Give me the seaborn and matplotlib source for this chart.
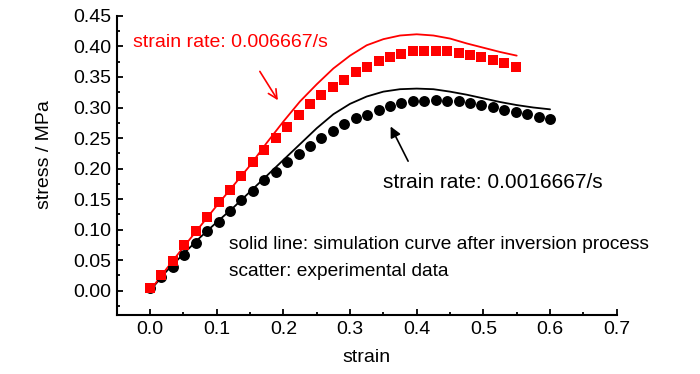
import matplotlib
matplotlib.use("Agg")
import matplotlib.pyplot as plt
import pandas as pd
import seaborn as sns
from matplotlib.ticker import MultipleLocator, FormatStrFormatter

# ---------------- data ----------------
strain_exp = [0.000, 0.017, 0.034, 0.051, 0.069, 0.086, 0.103, 0.120, 0.137,
              0.154, 0.171, 0.189, 0.206, 0.223, 0.240, 0.257, 0.274, 0.291,
              0.309, 0.326, 0.343, 0.360, 0.377, 0.394, 0.411, 0.429, 0.446,
              0.463, 0.480, 0.497, 0.514, 0.531, 0.549, 0.566, 0.583, 0.600]

# experimental data, strain rate 0.006667/s (red squares, 33 points)
stress_exp_fast = [0.005, 0.026, 0.049, 0.075, 0.097, 0.120, 0.145, 0.165,
                   0.187, 0.211, 0.231, 0.250, 0.268, 0.288, 0.306, 0.320,
                   0.333, 0.345, 0.358, 0.367, 0.377, 0.382, 0.388, 0.392,
                   0.393, 0.393, 0.392, 0.389, 0.386, 0.382, 0.378, 0.373,
                   0.367]

# experimental data, strain rate 0.0016667/s (black circles, 36 points)
stress_exp_slow = [0.005, 0.023, 0.039, 0.059, 0.078, 0.097, 0.113, 0.130,
                   0.148, 0.163, 0.181, 0.195, 0.211, 0.224, 0.237, 0.250,
                   0.262, 0.273, 0.283, 0.288, 0.296, 0.303, 0.307, 0.311,
                   0.311, 0.313, 0.311, 0.310, 0.307, 0.304, 0.301, 0.296,
                   0.292, 0.290, 0.285, 0.281]

# simulation curves
strain_sim_fast = [0.0, 0.025, 0.05, 0.075, 0.1, 0.125, 0.15, 0.175, 0.2,
                   0.225, 0.25, 0.275, 0.3, 0.325, 0.35, 0.375, 0.4, 0.425,
                   0.45, 0.475, 0.5, 0.525, 0.55]
stress_sim_fast = [0.000, 0.036, 0.071, 0.105, 0.139, 0.172, 0.205, 0.242,
                   0.277, 0.310, 0.338, 0.364, 0.385, 0.402, 0.412, 0.418,
                   0.420, 0.418, 0.413, 0.405, 0.398, 0.391, 0.385]

strain_sim_slow = [0.0, 0.025, 0.05, 0.075, 0.1, 0.125, 0.15, 0.175, 0.2,
                   0.225, 0.25, 0.275, 0.3, 0.325, 0.35, 0.375, 0.4, 0.425,
                   0.45, 0.475, 0.5, 0.525, 0.55, 0.575, 0.6]
stress_sim_slow = [0.000, 0.032, 0.060, 0.087, 0.112, 0.136, 0.162, 0.188,
                   0.214, 0.240, 0.266, 0.289, 0.306, 0.318, 0.326, 0.330,
                   0.331, 0.330, 0.326, 0.321, 0.315, 0.309, 0.304, 0.300,
                   0.297]

label_fast = "strain rate: 0.006667/s"
label_slow = "strain rate: 0.0016667/s"
note_line = "solid line: simulation curve after inversion process"
note_scatter = "scatter: experimental data"
x_label = "strain"
y_label = "stress / MPa"

# ---------------- tables ----------------
exp_fast = pd.DataFrame({"strain": strain_exp[:len(stress_exp_fast)],
                         "stress": stress_exp_fast})
exp_slow = pd.DataFrame({"strain": strain_exp[:len(stress_exp_slow)],
                         "stress": stress_exp_slow})
sim_fast = pd.DataFrame({"strain": strain_sim_fast, "stress": stress_sim_fast})
sim_slow = pd.DataFrame({"strain": strain_sim_slow, "stress": stress_sim_slow})

# ---------------- style ----------------
sns.set_style("ticks")
plt.rcParams["font.family"] = ["Liberation Sans", "DejaVu Sans"]
plt.rcParams["text.color"] = "black"
plt.rcParams["axes.labelcolor"] = "black"
plt.rcParams["xtick.color"] = "black"
plt.rcParams["ytick.color"] = "black"

fig = plt.figure(figsize=(7.0, 3.74), dpi=100)
ax = fig.add_axes([0.1667, 0.1578, 0.7143, 0.7995])

RED = "#ff0000"
BLK = "#000000"

sns.lineplot(data=sim_slow, x="strain", y="stress", color=BLK, lw=1.3,
             sort=False, estimator=None, ax=ax, zorder=3)
sns.lineplot(data=sim_fast, x="strain", y="stress", color=RED, lw=1.3,
             sort=False, estimator=None, ax=ax, zorder=3)
sns.scatterplot(data=exp_slow, x="strain", y="stress", color=BLK, marker="o",
                s=62, linewidth=0, ax=ax, zorder=4)
sns.scatterplot(data=exp_fast, x="strain", y="stress", color=RED, marker="s",
                s=52, linewidth=0, ax=ax, zorder=5)

ax.set_xlim(-0.05, 0.7)
ax.set_ylim(-0.04, 0.45)
ax.xaxis.set_major_locator(MultipleLocator(0.1))
ax.xaxis.set_minor_locator(MultipleLocator(0.05))
ax.yaxis.set_major_locator(MultipleLocator(0.05))
ax.yaxis.set_minor_locator(MultipleLocator(0.025))
ax.xaxis.set_major_formatter(FormatStrFormatter("%.1f"))
ax.yaxis.set_major_formatter(FormatStrFormatter("%.2f"))

for s in ["top", "right"]:
    ax.spines[s].set_visible(False)
for s in ["left", "bottom"]:
    ax.spines[s].set_linewidth(1.5)
    ax.spines[s].set_color(BLK)

ax.tick_params(which="major", direction="in", length=4.5, width=1.3,
               labelsize=14, colors=BLK, labelcolor=BLK, pad=4)
ax.tick_params(which="minor", direction="in", length=2.3, width=1.3,
               colors=BLK)

ax.set_xlabel(x_label, fontsize=14, color=BLK)
ax.set_ylabel(y_label, fontsize=14, color=BLK)
ax.xaxis.set_label_coords(0.5, -0.114)
ax.yaxis.set_label_coords(-0.127, 0.538)

# texts and arrows
ax.text(-0.0255, 0.406, label_fast, color=RED, fontsize=14, va="center",
        ha="left")
ax.annotate("", xy=(0.194, 0.308), xytext=(0.1625, 0.363),
            arrowprops=dict(arrowstyle="->", color=RED, lw=1.2,
                            mutation_scale=16))
ax.text(0.3495, 0.177, label_slow, color=BLK, fontsize=15, va="center",
        ha="left")
ax.annotate("", xy=(0.359, 0.273), xytext=(0.389, 0.208),
            arrowprops=dict(arrowstyle="-|>", color=BLK, lw=1.2,
                            mutation_scale=16))
ax.text(0.1185, 0.075, note_line, color=BLK, fontsize=13.8, va="center",
        ha="left")
ax.text(0.1185, 0.031, note_scatter, color=BLK, fontsize=13.8, va="center",
        ha="left")

fig.savefig("out.png", dpi=100)
